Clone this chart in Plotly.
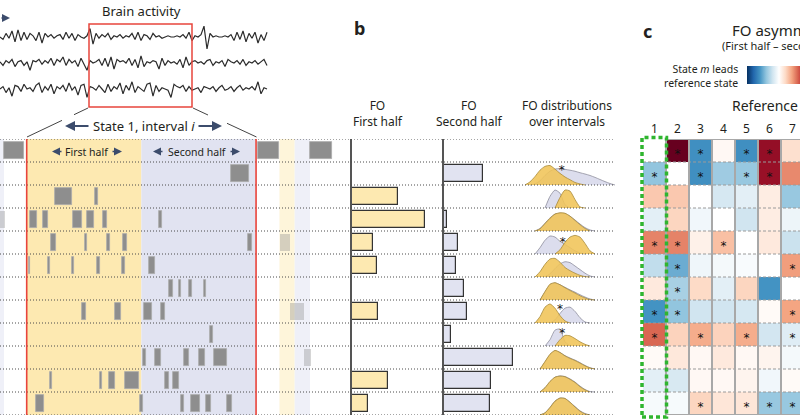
import plotly.graph_objects as go

W, H = 800, 419
def px(x): return x / W
def py(y): return 1 - y / H
def dx(a, b): return [a / W, b / W]
def dy(top, bot): return [1 - bot / H, 1 - top / H]

FONT = "Noto Sans"
INK = "#231f20"
ARROW = "#3c4c6c"
RED = "#e8453c"
GRAY = "#8e8e8e"
YEL = "#fde9b1"
LAV = "#e1e3f1"
YEL_F = "#fef5da"
LAV_F = "#eff0f8"
DYEL = "rgba(240,196,88,0.88)"
DLAV = "#dcdded"

# ---------------- data ----------------
# brain activity (three channels), sampled every 3 time samples
eeg_ch1 = [0, -2, 3, -1, 5, -4, 6, -3, 4, -2, 3,
           1, -3, 4, -5, 3, 0, 2, -1, 1,
           2, -2, 4, -1, 3, -3, 2, 0, -1, 1,
           7, -6, 3,
           -1, 2, 0, 3, -2, 1, 0, 2, -1, 1, 0,
           3, -2, 4, -3, 2, 1, -2, 3, 0, 1, -1, 0, 1,
           0, 0, 1, 0, 2, -1, 4,
           -3, 1, 0, 2,
           9, -10, 3,
           0, 1, 0, 0, 1, 0,
           2, -3, 4, -2, 5, -4, 3, -1, 4, -5, 2, -3, 4]
eeg_ch2 = [1, -2, 2, 0, 3, -3, 1, 2, -2, 1,
           -6, 2, 1, 3, -1, 2, 0, 4, -2, 3,
           1, 5, -2, 3, 0, 2, -3, 4, -1, -6,
           2, 0, 1, 3, -2, 4, -3, 5, -5, 3,
           1, 2, 0, 4, -2, 3, -4, 6, -3, 1,
           0, 2, 1, -5, 4, -2, 2, 0, 1, -1,
           3, -4, 5, -2, 1, 2, 0, 1, -1, 2,
           3, -2, 1, 0, 2, -3, 3, 1, 0, 2,
           -1, 3, -2, 1, 0, 2, -1, 1, 3, -2]
eeg_ch3 = [0, 2, -3, 1, -6, 3, 2, -2, 4, 0,
           1, -2, 3, 5, -3, 2, -1, 4, -4, 2,
           0, 3, -2, 5, -1, 2, -5, 3, 4, -7,
           2, 1, -1, 3, 0, -3, 4, -2, 2, 0,
           5, -4, 3, -1, 6, -3, 2, 0, -2, 4,
           5, -6, 3, -2, 1, 0, -1, -7, 4, 2,
           1, 3, -2, 2, -1, 0, 1, -3, 2, 1,
           0, 2, -2, 1, 3, -1, 0, 2, -2, 1,
           3, -1, 1, 0, 2, -1, 6, -4, 1, 0]

# state visits (state, onset, offset) in % of interval i
ev_state = [1, 1, 1,
            2,
            3, 3,
            4, 4, 4, 4, 4, 4,
            5, 5, 5, 5, 5,
            6, 6, 6, 6, 6, 6,
            7, 7, 7, 7,
            8, 8, 8, 8,
            9,
            10, 10, 10, 10, 10,
            11, 11, 11, 11, 11, 11,
            12, 12, 12, 12, 12, 12]
ev_on = [-9.9, 100.7, 123.5,
         89.1,
         12.3, 29.9,
         1.4, 7.2, 20.3, 26.4, 33.1, 57.8,
         10.6, 25.6, 34.9, 42.1, 96.6,
         1.0, 9.4, 19.8, 30.5, 41.4, 53.5,
         62.1, 66.4, 70.6, 77.5,
         24.1, 38.5, 51.2, 58.7,
         80.1,
         50.6, 56.0, 68.5, 75.3, 81.7,
         10.3, 32.0, 35.9, 43.0, 60.2, 63.9,
         4.2, 49.3, 67.3, 71.5, 78.3, 87.5]
ev_off = [-1.2, 110.2, 133.0,
          97.1,
          19.6, 31.0,
          4.4, 9.4, 24.0, 29.5, 35.0, 58.9,
          12.8, 26.3, 36.3, 43.9, 98.4,
          1.5, 10.2, 20.6, 32.0, 42.9, 56.0,
          63.7, 67.2, 72.0, 78.2,
          25.9, 41.1, 54.5, 60.4,
          81.4,
          52.0, 58.6, 70.6, 77.6, 87.5,
          11.0, 33.0, 38.4, 49.1, 61.9, 66.5,
          7.5, 50.6, 68.7, 75.6, 80.4, 89.4]
# visits in neighbouring intervals (drawn faded)
nb_state = [4, 5, 8, 10]
nb_on = [-11.7, 110.5, 114.9, 121.1]
nb_off = [-9.6, 114.9, 121.1, 123.9]

interval_i = (0.0, 100.0)
interval_next = (110.2, 123.5)
interval_prev_end = -9.9

states = list(range(1, 13))
fo_first = [0, 0, 0.23, 0.365, 0.105, 0.125, 0, 0.13, 0, 0, 0.18, 0.08]
fo_second = [0, 0.195, 0, 0.017, 0.068, 0.058, 0.098, 0.117, 0.033, 0.343, 0.233, 0.23]

# FO distributions over intervals (density, relative height) on an FO grid
fo_grid = [0.00, 0.05, 0.10, 0.15, 0.20, 0.25, 0.30, 0.35, 0.40, 0.45,
           0.50, 0.55, 0.60, 0.65, 0.70, 0.75, 0.80, 0.85, 0.90]
dens_first = {
    2: [0, .15, .4, .7, .88, .92, .75, .55, .38, .25, .12, .05, 0, 0, 0, 0, 0, 0, 0],
    3: [0, 0, 0, 0, 0, 0, 0, .5, .85, .8, .4, .05, 0, 0, 0, 0, 0, 0, 0],
    4: [0, 0, 0, .1, .35, .6, .8, .86, .84, .7, .5, .3, .12, 0, 0, 0, 0, 0, 0],
    5: [0, 0, 0, 0, 0, 0, 0, .2, .55, .8, .88, .8, .5, .15, 0, 0, 0, 0, 0],
    6: [0, 0, 0, .25, .6, .85, .88, .7, .45, .3, .18, .08, .02, 0, 0, 0, 0, 0, 0],
    7: [0, 0, 0, 0, .4, .75, .82, .72, .58, .45, .33, .2, .1, .02, 0, 0, 0, 0, 0],
    8: [0, 0, 0, .3, .75, .9, .7, .35, .1, 0, 0, 0, 0, 0, 0, 0, 0, 0, 0],
    9: [0, 0, 0, 0, 0, 0, 0, .3, .5, .48, .35, .2, .08, 0, 0, 0, 0, 0, 0],
    10: [0, 0, 0, 0, .35, .7, .88, .78, .62, .5, .4, .28, .15, .05, 0, 0, 0, 0, 0],
    11: [0, 0, 0, 0, .2, .5, .7, .75, .72, .6, .45, .25, .1, 0, 0, 0, 0, 0, 0],
    12: [0, 0, 0, 0, .1, .35, .65, .8, .78, .6, .38, .18, .05, 0, 0, 0, 0, 0, 0],
}
dens_second = {
    2: [0, 0, .05, .2, .45, .65, .75, .78, .74, .7, .65, .58, .52, .45, .36, .26, .16, .07, 0],
    3: [0, 0, 0, 0, 0, .55, .85, .7, .15, 0, 0, 0, 0, 0, 0, 0, 0, 0, 0],
    4: [0, 0, 0, .12, .37, .62, .8, .84, .82, .7, .52, .33, .16, .05, 0, 0, 0, 0, 0],
    5: [0, 0, 0, .3, .65, .85, .8, .6, .45, .3, .15, .05, 0, 0, 0, 0, 0, 0, 0],
    6: [0, 0, 0, 0, 0, .15, .4, .62, .72, .68, .52, .35, .18, .05, 0, 0, 0, 0, 0],
    7: [0, 0, 0, 0, .38, .72, .8, .72, .6, .48, .37, .25, .14, .05, 0, 0, 0, 0, 0],
    8: [0, 0, 0, 0, 0, 0, .15, .45, .7, .75, .55, .25, .05, 0, 0, 0, 0, 0, 0],
    9: [0, 0, 0, 0, 0, .3, .75, .8, .2, 0, 0, 0, 0, 0, 0, 0, 0, 0, 0],
    10: [0, 0, 0, 0, .33, .68, .86, .78, .63, .52, .42, .3, .17, .06, 0, 0, 0, 0, 0],
    11: [0, 0, 0, 0, .2, .48, .7, .76, .73, .62, .47, .28, .12, .02, 0, 0, 0, 0, 0],
    12: [0, 0, 0, 0, .1, .36, .66, .8, .78, .6, .4, .2, .07, 0, 0, 0, 0, 0, 0],
}
dist_sig_state = [2, 5, 8, 9]
dist_sig_fo = [0.367, 0.377, 0.35, 0.373]
dist_sig_h = [0.87, 0.70, 0.83, 0.74]

# FO asymmetry (state m rows x reference state columns 1-7)
ref_states = [1, 2, 3, 4, 5, 6, 7]
fo_asym = [
    [0, 1.0, -0.62, 0.04, -0.62, 0.88, 0.17],
    [-0.4, 0, -0.62, -0.36, -0.38, 0.87, 0.48],
    [0.27, 0.27, 0, -0.18, -0.12, 0.1, -0.38],
    [-0.12, 0.22, -0.06, 0, -0.2, 0.1, -0.08],
    [0.5, 0.5, 0.08, 0.3, 0, 0.12, -0.22],
    [-0.25, -0.5, -0.07, -0.05, -0.03, 0, 0.42],
    [0.12, -0.33, 0.2, -0.12, 0.22, -0.6, 0],
    [-0.6, -0.4, -0.2, -0.2, -0.18, 0.03, 0.4],
    [0.58, 0.23, 0.37, 0.23, 0.37, -0.19, -0.14],
    [0.03, 0.13, 0.04, 0.12, 0.04, 0.06, -0.05],
    [-0.12, -0.17, 0.04, 0.04, 0.06, -0.06, 0.03],
    [-0.04, -0.04, 0.22, 0.14, 0.14, -0.38, -0.38],
]
sig_state = [1, 1, 1, 1, 2, 2, 2, 2, 5, 5, 5, 6, 6, 7, 8, 8, 8, 9, 9, 9, 9, 12, 12, 12, 12]
sig_ref = [2, 3, 5, 6, 1, 3, 5, 6, 1, 2, 4, 2, 7, 2, 1, 2, 7, 1, 3, 5, 7, 3, 5, 6, 7]

rdbu = [[0.0, '#053061'], [0.1, '#2166ac'], [0.2, '#4393c3'], [0.3, '#92c5de'],
        [0.4, '#d1e5f0'], [0.5, '#ffffff'], [0.6, '#fddbc7'], [0.7, '#f4a582'],
        [0.8, '#d6604d'], [0.9, '#b2182b'], [1.0, '#67001f']]

# ---------------- figure ----------------
fig = go.Figure()

# EEG
eeg_gap = 26
for k, ch in enumerate([eeg_ch1, eeg_ch2, eeg_ch3]):
    fig.add_trace(go.Scatter(x=[3 * i for i in range(len(ch))],
                             y=[1.2 * v - k * eeg_gap for v in ch],
                             mode='lines', line=dict(color='#2b2b2b', width=1.2),
                             xaxis='x', yaxis='y', hoverinfo='skip'))

# raster visits
fig.add_trace(go.Bar(orientation='h', y=ev_state,
                     x=[b - a for a, b in zip(ev_on, ev_off)], base=ev_on,
                     width=0.76, marker=dict(color=GRAY, line=dict(color='#ababab', width=0.8)),
                     xaxis='x2', yaxis='y2', hoverinfo='skip'))
fig.add_trace(go.Bar(orientation='h', y=nb_state,
                     x=[b - a for a, b in zip(nb_on, nb_off)], base=nb_on,
                     width=0.76, opacity=0.35,
                     marker=dict(color='#8a8a8a', line=dict(width=0)),
                     xaxis='x2', yaxis='y2', hoverinfo='skip'))

# FO bars
fig.add_trace(go.Bar(orientation='h', y=states, x=[v if v > 0 else None for v in fo_first],
                     width=0.74, marker=dict(color=YEL, line=dict(color='#333333', width=1.2)),
                     xaxis='x3', yaxis='y3', hoverinfo='skip'))
fig.add_trace(go.Bar(orientation='h', y=states, x=[v if v > 0 else None for v in fo_second],
                     width=0.74, marker=dict(color=LAV, line=dict(color='#333333', width=1.2)),
                     xaxis='x4', yaxis='y4', hoverinfo='skip'))

# distributions
def trimmed(d):
    idx = [i for i, v in enumerate(d) if v > 0]
    lo, hi = max(idx[0] - 1, 0), min(idx[-1] + 1, len(d) - 1)
    return list(range(lo, hi + 1))

for s in states:
    for dens, fill, lc in ((dens_second, DLAV, '#8d8d9c'), (dens_first, DYEL, '#a88a3a')):
        if s not in dens:
            continue
        ii = trimmed(dens[s])
        xs = [fo_grid[i] for i in ii]
        ys = [s + 0.5 - 0.92 * dens[s][i] for i in ii]
        fig.add_trace(go.Scatter(x=xs, y=ys, mode='lines', fill='toself', fillcolor=fill,
                                 line=dict(color=lc, width=0.8, shape='spline', smoothing=0.6),
                                 xaxis='x5', yaxis='y5', hoverinfo='skip'))
fig.add_trace(go.Scatter(x=dist_sig_fo, y=[s + 0.5 - h * 0.92 + 0.18 for s, h in zip(dist_sig_state, dist_sig_h)],
                         mode='text', text=['*'] * len(dist_sig_fo),
                         textfont=dict(family='DejaVu Sans', size=12, color='#111'),
                         xaxis='x5', yaxis='y5', hoverinfo='skip'))

# heatmap
fig.add_trace(go.Heatmap(z=fo_asym, x=ref_states, y=states, colorscale=rdbu, zmin=-1, zmax=1,
                         xaxis='x6', yaxis='y6', hoverinfo='skip', showscale=True,
                         colorbar=dict(orientation='h', x=px(747), xanchor='left', y=py(66), yanchor='top',
                                       len=64, lenmode='pixels', thickness=18, thicknessmode='pixels',
                                       showticklabels=False, ticks='', outlinewidth=0, xpad=0, ypad=0)))
fig.add_trace(go.Scatter(x=sig_ref, y=[s + 0.18 for s in sig_state], mode='text', text=['*'] * len(sig_ref),
                         textfont=dict(family='DejaVu Sans', size=12, color='#111'),
                         xaxis='x6', yaxis='y6', hoverinfo='skip'))

hidden = dict(visible=False, showgrid=False, zeroline=False, fixedrange=True)
row_range = [12.5, 0.5]
layout = dict(
    width=W, height=H, margin=dict(l=0, r=0, t=0, b=0, autoexpand=False),
    paper_bgcolor='white', plot_bgcolor='rgba(0,0,0,0)', showlegend=False,
    font=dict(family=FONT, color=INK), hovermode=False, bargap=0, barmode='overlay',
    xaxis=dict(domain=dx(0, 270), range=[0, 270], anchor='y', **hidden),
    yaxis=dict(domain=dy(20, 105), range=[-68, 17], anchor='x', **hidden),
    xaxis2=dict(domain=dx(0, 340), range=[-11.64, 136.6], anchor='y2', **hidden),
    yaxis2=dict(domain=dy(139, 415), range=row_range, anchor='x2', **hidden),
    xaxis3=dict(domain=dx(352, 440), range=[0, 0.44], anchor='y3', **hidden),
    yaxis3=dict(domain=dy(139, 415), range=row_range, anchor='x3', showline=True, linecolor='#555555',
                linewidth=1.5, showticklabels=False, ticks='', showgrid=False, zeroline=False),
    xaxis4=dict(domain=dx(444, 520), range=[0, 0.38], anchor='y4', **hidden),
    yaxis4=dict(domain=dy(139, 415), range=row_range, anchor='x4', showline=True, linecolor='#555555',
                linewidth=1.5, showticklabels=False, ticks='', showgrid=False, zeroline=False),
    xaxis5=dict(domain=dx(525, 615), range=[0, 0.9], anchor='y5', **hidden),
    yaxis5=dict(domain=dy(139, 415), range=row_range, anchor='x5', **hidden),
    xaxis6=dict(domain=dx(643, 800), range=[0.5, 7.326], anchor='y6', side='top', tickvals=ref_states,
                ticktext=[str(v) for v in ref_states], ticks='', showgrid=False, zeroline=False,
                tickfont=dict(size=12, color=INK), ticklabelstandoff=3, fixedrange=True),
    yaxis6=dict(domain=dy(139, 415), range=row_range, anchor='x6', **hidden),
)
fig.update_layout(**layout)

shapes = []
# raster backgrounds
i0, i1 = interval_i
mid = (i0 + i1) / 2
n0, n1 = interval_next
nmid = (n0 + n1) / 2
for a, b, c in ((i0, mid, YEL), (mid, i1, LAV), (n0, nmid, YEL_F), (nmid, n1, LAV_F), (-11.64, interval_prev_end, LAV_F)):
    shapes.append(dict(type='rect', xref='x2', yref='y2', x0=a, x1=b, y0=0.5, y1=12.5,
                       fillcolor=c, line=dict(width=0), layer='below'))
# dotted row separators
for b in [0.5 + k for k in range(13)]:
    shapes.append(dict(type='line', xref='paper', yref='y2', x0=0, x1=px(615), y0=b, y1=b,
                       line=dict(color='#4a4a4a', width=1, dash='1px,2px'), layer='above'))
# interval box
shapes.append(dict(type='rect', xref='x2', yref='y2', x0=i0, x1=i1, y0=0.45, y1=12.55,
                   line=dict(color=RED, width=1.6), layer='above'))
# EEG selection box + zoom lines
shapes.append(dict(type='rect', xref='paper', yref='paper', x0=px(89), x1=px(192), y0=py(107), y1=py(24),
                   line=dict(color=RED, width=1.5), layer='above'))
for (xa, ya, xb, yb) in ((88, 108, 74, 114.7), (62, 120.4, 27, 137), (193, 108, 208, 115), (227, 123.3, 256.5, 137)):
    shapes.append(dict(type='line', xref='paper', yref='paper', x0=px(xa), y0=py(ya), x1=px(xb), y1=py(yb),
                       line=dict(color='#444444', width=1)))
# heatmap grid
for k in range(1, 12):
    shapes.append(dict(type='line', xref='x6', yref='y6', x0=0.5, x1=7.4, y0=k + 0.5, y1=k + 0.5,
                       line=dict(color='#9a9a9a', width=1, dash='3px,2px'), layer='above'))
for k in range(1, 7):
    shapes.append(dict(type='line', xref='x6', yref='y6', x0=k + 0.5, x1=k + 0.5, y0=0.5, y1=12.5,
                       line=dict(color='#a8a8a8', width=2), layer='above'))
for yb in (0.5, 12.5):
    shapes.append(dict(type='line', xref='x6', yref='y6', x0=1.5, x1=7.4, y0=yb, y1=yb,
                       line=dict(color='#a8a8a8', width=2), layer='above'))
# green highlight of reference state 1
shapes.append(dict(type='rect', xref='paper', yref='paper', x0=px(642), x1=px(666.5), y0=py(417), y1=py(137.5),
                   line=dict(color='#2fb52f', width=3.5, dash='4px,3px'), layer='above'))
fig.update_layout(shapes=shapes)

ann = []
def txt(x, y, s, size, anchor='center', color=INK):
    ann.append(dict(x=px(x), y=py(y), xref='paper', yref='paper', text=s, showarrow=False,
                    xanchor=anchor, yanchor='middle', align=anchor if anchor != 'center' else 'center',
                    font=dict(size=size, color=color, family=FONT)))
def arrow(xh, yh, dxp, width=2):
    ann.append(dict(x=px(xh), y=py(yh), xref='paper', yref='paper', text='', showarrow=True,
                    ax=dxp, ay=0, arrowhead=2, arrowsize=1, arrowwidth=width, arrowcolor=ARROW))

txt(141, 11.5, 'Brain activity', 13)
txt(144, 126, 'State 1, interval <i>i</i>', 13)
arrow(65, 126, 25)
arrow(222, 126, -25)
arrow(10, 18, -14, 1.6)
txt(86.7, 151.5, 'First half', 10.5)
txt(197, 151.5, 'Second half', 10.5)
arrow(52, 151.5, 11, 1.6)
arrow(122, 151.5, -11, 1.6)
arrow(153, 151.5, 11, 1.6)
arrow(240, 151.5, -11, 1.6)
txt(352, 28, '<b>b</b>', 18, 'left')
txt(378, 113.5, 'FO<br>First half', 12)
txt(469, 113.5, 'FO<br>Second half', 12)
txt(567, 113.5, 'FO distributions<br>over intervals', 12)
txt(641, 31, '<b>c</b>', 18, 'left')
txt(783, 37, "<span style='font-size:15px'>FO asymmetry</span><br>(First half \u2013 second half)", 11)
txt(740, 75.5, 'State <i>m</i> leads<br>reference state', 10.5, 'right')
txt(730, 106, 'Reference state', 14, 'left')
fig.update_layout(annotations=ann)

fig.write_html("out.html", config={'displayModeBar': False},
               post_script="document.body.style.margin='0px';document.body.style.padding='0px';")
